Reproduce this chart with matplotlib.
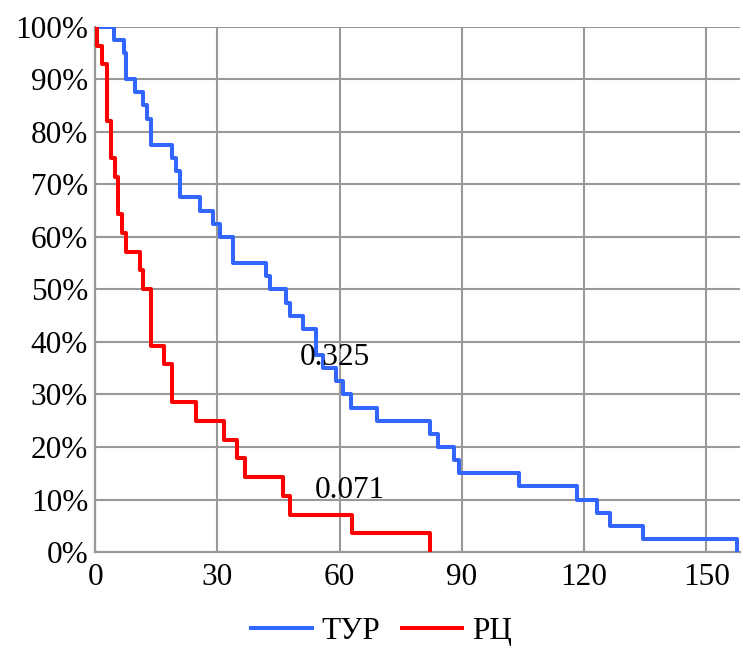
import matplotlib
matplotlib.use('Agg')
from matplotlib import pyplot as plt

# survival curves (time, percent surviving)
tur_time = [0, 4.7, 7.0, 7.6, 9.8, 11.7, 12.8, 13.7, 18.8, 19.9, 20.9, 25.8, 28.9, 30.7,
            33.9, 42, 43, 46.9, 47.9, 51, 54.2, 55.9, 59.1, 60.9, 62.8, 69.1, 82.2, 84.1,
            88.2, 89.2, 104, 118.4, 123.2, 126.4, 134.4, 157.6]
tur_surv = [100, 97.5, 95, 90, 87.5, 85, 82.5, 77.5, 75, 72.5, 67.5, 65, 62.5, 60,
            55, 52.5, 50, 47.5, 45, 42.5, 37.5, 35, 32.5, 30, 27.5, 25, 22.5, 20,
            17.5, 15, 12.5, 10, 7.5, 5, 2.5, 0]

rc_time = [0, 0.4, 1.6, 2.9, 3.8, 4.9, 5.7, 6.7, 7.6, 10.9, 11.7, 13.7, 16.8, 18.8,
           24.7, 31.7, 34.9, 36.8, 46.1, 47.9, 63, 82.2]
rc_surv = [100, 96.4, 92.9, 82.1, 75, 71.4, 64.3, 60.7, 57.1, 53.6, 50, 39.3, 35.7, 28.6,
           25, 21.4, 17.9, 14.3, 10.7, 7.1, 3.6, 0]

labels = ['ТУР', 'РЦ']
notes = [('0.325', 58.9, 37.1), ('0.071', 62.6, 11.8)]

plt.rcParams['font.family'] = ['Liberation Serif', 'DejaVu Serif']
FS = 22.5

fig = plt.figure(figsize=(7.43, 6.51), dpi=100)
ax = fig.add_axes([0.128, 0.152, 0.868, 0.807])

ax.step(tur_time, tur_surv, where='post', color='#3366ff', lw=2.9, label=labels[0], zorder=3)
ax.step(rc_time, rc_surv, where='post', color='#ff0000', lw=2.9, label=labels[1], zorder=3)

for txt, x, y in notes:
    ax.text(x, y, txt, fontsize=FS, ha='center', va='center', zorder=4)

ax.set_xlim(0, 158.3)
ax.set_ylim(0, 100)
ax.set_xticks(range(0, 151, 30))
ax.set_yticks(range(0, 101, 10))
ax.set_yticklabels([f'{v}%' for v in range(0, 101, 10)])
ax.tick_params(labelsize=FS, length=0)
ax.tick_params(axis='y', pad=5)
ax.tick_params(axis='x', pad=8)
ax.grid(True, color='#999999', lw=1.5)
ax.set_axisbelow(True)
for s in ['top', 'right']:
    ax.spines[s].set_visible(False)
for s in ['left', 'bottom']:
    ax.spines[s].set_color('#999999')
    ax.spines[s].set_linewidth(1.6)

fig.legend(loc='lower center', bbox_to_anchor=(0.513, -0.035), ncol=2, frameon=False,
           fontsize=FS, handlelength=1.95, columnspacing=0.7, handletextpad=0.3)

fig.savefig('out.png', dpi=100)
